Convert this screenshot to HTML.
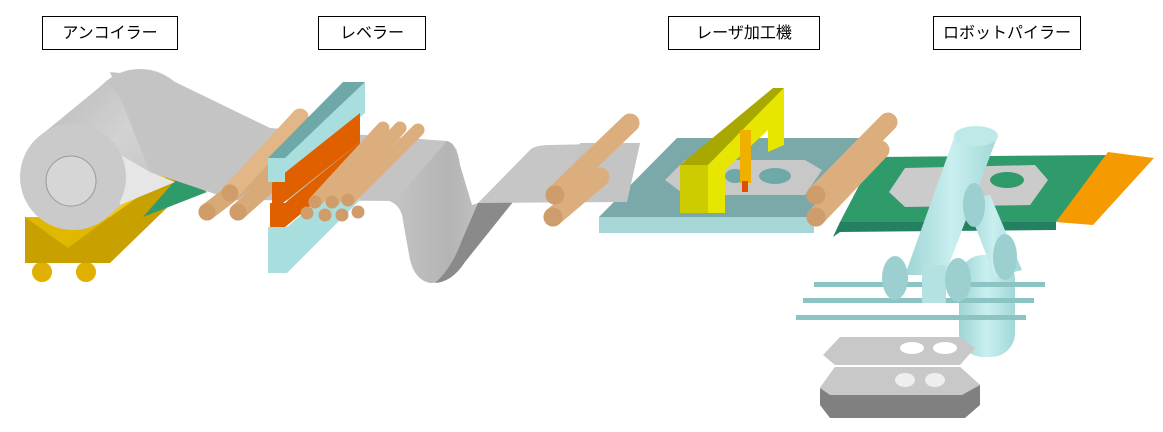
<!DOCTYPE html>
<html><head><meta charset="utf-8"><style>
body{margin:0;background:#fff;width:1163px;height:432px;overflow:hidden;font-family:"Liberation Sans","Noto Sans CJK JP",sans-serif}
.l{position:absolute;top:16px;height:34px;border:1px solid #000;background:#fff;font-size:16px;line-height:34px;text-align:center;box-sizing:border-box}
</style></head><body>
<svg width="1163" height="432" style="position:absolute;left:0;top:0">
<defs>
<linearGradient id="rob" x1="0" y1="0" x2="1" y2="0"><stop offset="0" stop-color="#9fd4d4"/><stop offset=".5" stop-color="#c9efef"/><stop offset="1" stop-color="#a2d8d8"/></linearGradient>
<linearGradient id="wv" x1="0" y1="0" x2="1" y2="0"><stop offset="0" stop-color="#c6c6c6"/><stop offset=".5" stop-color="#b4b4b4"/><stop offset="1" stop-color="#cfcfcf"/></linearGradient>
<linearGradient id="cyl" x1="0" y1="0" x2="1" y2="1"><stop offset="0" stop-color="#b8b8b8"/><stop offset=".5" stop-color="#d2d2d2"/><stop offset="1" stop-color="#c0c0c0"/></linearGradient>
</defs>
<!-- uncoiler base -->
<circle cx="42" cy="272" r="10" fill="#e0b000"/><circle cx="86" cy="272" r="10" fill="#e0b000"/>
<polygon points="25,217 110,217 175,170 175,200 110,263 25,263" fill="#c8a000"/>
<polygon points="25,217 60,217 150,165 175,170 110,217" fill="#f2c800"/>
<polygon points="25,217 110,217 68,248" fill="#e0b800"/>
<polygon points="143,217 180,175 207,192" fill="#2f9a6a"/>
<!-- coil -->
<circle cx="140" cy="122" r="53" fill="#c4c4c4"/>
<polygon points="40,136 107,81 173,163 106,218" fill="url(#cyl)"/>
<!-- sheet -->
<polygon points="110,72 167,78 270,128 447,141 457,150 395,201 233,200 150,172" fill="#c4c4c4"/>
<polygon points="112,150 150,172 175,182 120,205" fill="#e6e6e6"/>
<circle cx="73" cy="177" r="53" fill="#cacaca"/>
<circle cx="71" cy="181" r="25" fill="#d6d6d6" stroke="#999" stroke-width="1"/>
<!-- leveler rolls left -->
<g stroke-linecap="round" fill="none" stroke-width="17">
<line x1="207" y1="212" x2="275" y2="160" stroke="#d8aa78"/>
<line x1="238" y1="212" x2="285" y2="170" stroke="#d8aa78"/>
<line x1="230" y1="193" x2="300" y2="117" stroke="#e2b686"/>
</g>
<circle cx="207" cy="212" r="8.5" fill="#d09c6a"/><circle cx="238" cy="212" r="8.5" fill="#d09c6a"/><circle cx="230" cy="193" r="8.5" fill="#d09c6a"/>
<!-- leveler frame -->
<polygon points="268,227 287,227 360,165 360,200 287,273 268,273" fill="#a8dede"/>
<polygon points="270,203 285,203 360,142 360,165 285,227 270,227" fill="#e06000"/>
<polygon points="285,158 365,82 365,113 285,182" fill="#a8dede"/>
<polygon points="272,183 360,113 360,142 283,203 272,203" fill="#e06000"/>
<polygon points="268,158 343,82 365,82 285,158" fill="#6fa8a8"/>
<rect x="268" y="158" width="17" height="24" fill="#a8dede"/>
<!-- wave -->
<path d="M395,201 L447,141 Q457,143 460,165 L472,205 L478,203 L513,202 L470,250 Q455,283 430,283 Q415,280 410,260 L402,215 Q398,202 385,200 Z" fill="url(#wv)"/>
<path d="M478,203 L513,202 L465,262 Q452,282 435,283 Q452,268 462,240 Z" fill="#8a8a8a"/>
<path d="M478,203 L530,150 Q535,145 550,145 L640,143 L627,202 Z" fill="#c6c6c6"/>
<g stroke-linecap="round" fill="none" stroke="#dcae7e" stroke-width="13">
<line x1="315" y1="202" x2="383" y2="128"/><line x1="332" y1="202" x2="400" y2="128"/><line x1="348" y1="200" x2="418" y2="130"/>
</g>
<g fill="#d09c6a"><circle cx="307" cy="213" r="6.5"/><circle cx="325" cy="215" r="6.5"/><circle cx="342" cy="215" r="6.5"/><circle cx="358" cy="212" r="6.5"/><circle cx="315" cy="202" r="6.5"/><circle cx="332" cy="202" r="6.5"/><circle cx="348" cy="200" r="6.5"/></g>
<!-- laser station -->
<polygon points="599,217 677,138 863,138 814,217" fill="#7ba8a8"/>
<rect x="599" y="217" width="215" height="16" fill="#a6d6d6"/>
<polygon points="580,143 640,143 627,202 560,202" fill="#c4c4c4"/>
<g stroke-linecap="round" stroke-width="19" stroke="#dcae7e"><line x1="555" y1="195" x2="630" y2="123"/><line x1="553" y1="217" x2="600" y2="177"/></g>
<circle cx="555" cy="195" r="9.5" fill="#cf9d6b"/><circle cx="553" cy="217" r="9.5" fill="#cf9d6b"/>
<polygon points="665,180 685,160 805,160 822,170 805,195 685,195" fill="#c8c8c8"/>
<ellipse cx="775" cy="176" rx="16" ry="8" fill="#6fa8a8"/>
<ellipse cx="735" cy="176" rx="10" ry="7" fill="#6fa8a8"/>
<polygon points="680,165 773,88 784,88 708,165" fill="#a8a800"/>
<polygon points="708,165 784,88 784,145 768,152 768,130 725,170 725,213 708,213" fill="#e6e600"/>
<rect x="680" y="165" width="28" height="48" fill="#cccc00"/>
<rect x="740" y="130" width="11" height="53" fill="#f0b000"/>
<rect x="742" y="181" width="6" height="11" fill="#e05000"/>
<!-- conveyor -->
<polygon points="833,237 840,222 1056,222 1056,230 840,232" fill="#238060"/>
<polygon points="840,222 874,157 1108,155 1056,222" fill="#2f9a6a"/>
<polygon points="889,192 905,168 1035,165 1048,180 1030,205 905,207" fill="#cbcbcb"/>
<ellipse cx="1007" cy="180" rx="17" ry="8" fill="#2f9a6a"/>
<polygon points="1056,222 1108,152 1154,158 1093,225" fill="#f59a00"/>
<g stroke-linecap="round" stroke-width="19" stroke="#dcae7e"><line x1="816" y1="217" x2="880" y2="150"/><line x1="816" y1="195" x2="888" y2="122"/></g>
<circle cx="816" cy="195" r="9.5" fill="#cf9d6b"/><circle cx="816" cy="217" r="9.5" fill="#cf9d6b"/>
<!-- robot -->
<rect x="959" y="255" width="56" height="102" rx="24" fill="url(#rob)"/>
<rect x="814" y="282" width="231" height="5" fill="#8cc4c4"/>
<rect x="803" y="298" width="231" height="5" fill="#8cc4c4"/>
<rect x="796" y="315" width="230" height="5" fill="#8cc4c4"/>
<polygon points="965,200 990,195 1022,270 995,277" fill="url(#rob)"/>
<polygon points="955,135 998,135 945,275 905,275" fill="url(#rob)"/>
<ellipse cx="976" cy="136" rx="22" ry="10" fill="#bfe9e9"/>
<ellipse cx="974" cy="205" rx="11" ry="22" fill="#9ccfcf"/>
<ellipse cx="1005" cy="257" rx="12" ry="23" fill="#9ccfcf"/>
<rect x="922" y="265" width="24" height="38" fill="#b4e2e2"/>
<ellipse cx="895" cy="278" rx="13" ry="22" fill="#9ccfcf"/>
<ellipse cx="958" cy="280" rx="13" ry="22" fill="#9ccfcf"/>
<!-- parts -->
<polygon points="823,355 840,337 960,337 975,348 960,365 835,365" fill="#c8c8c8"/>
<ellipse cx="912" cy="348" rx="12" ry="6" fill="#fff"/><ellipse cx="945" cy="348" rx="12" ry="6" fill="#fff"/>
<polygon points="820,388 835,367 960,367 980,385 980,405 965,418 830,418 820,405" fill="#808080"/>
<polygon points="820,388 835,367 960,367 980,385 962,395 830,395" fill="#c8c8c8"/>
<ellipse cx="905" cy="380" rx="10" ry="7" fill="#eee"/><ellipse cx="935" cy="380" rx="10" ry="7" fill="#eee"/>
</svg>
<div class="l" style="left:42px;width:136px">アンコイラー</div>
<div class="l" style="left:318px;width:108px">レベラー</div>
<div class="l" style="left:668px;width:152px">レーザ加工機</div>
<div class="l" style="left:933px;width:148px">ロボットパイラー</div>
</body></html>
